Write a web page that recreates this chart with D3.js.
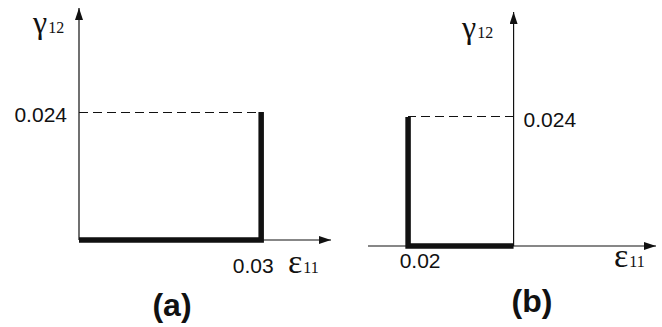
<!DOCTYPE html>
<html>
<head>
<meta charset="utf-8">
<script src="https://cdn.jsdelivr.net/npm/d3@7"></script>
<style>
  html, body { margin: 0; padding: 0; background: #fff; }
  svg { display: block; }
  .axis-line { stroke: #111; stroke-width: 1.2; fill: none; }
  .dash { stroke: #111; stroke-width: 1; stroke-dasharray: 9 5; fill: none; shape-rendering: crispEdges; }
  .path-thick { stroke: #111; stroke-width: 5.5; fill: none; stroke-linejoin: miter; }
  .num { font-family: "Liberation Sans", Arial, sans-serif; font-size: 21px; fill: #111; }
  .panel-label { font-family: "Liberation Sans", Arial, sans-serif; font-size: 32px; font-weight: bold; fill: #111; }
</style>
</head>
<body>
<div id="chart"></div>
<script>
// ---- data ----
const panelNames = ['(a)', '(b)'];

// strain path in (eps11, gamma12)
const pathAx = [0, 0.03, 0.03];
const pathAy = [0, 0, 0.024];
const pathBx = [0, -0.02, -0.02];
const pathBy = [0, 0, 0.024];

const gammaLevel = 0.024;           // dashed reference level
const tickXLabels = ['0.03', '0.02'];
const tickYLabels = ['0.024', '0.024'];

// visible axis extents (data units)
const axisXA = [0, 0.0415], axisYA = [0, 0.0435];
const axisXB = [-0.0276, 0.027], axisYB = [0, 0.0435];

const W = 662, H = 327;
const SERIF = '"Liberation Serif", "Times New Roman", serif';

const svg = d3.select('#chart').append('svg')
  .attr('width', W).attr('height', H);

// arrow head marker
svg.append('defs').append('marker')
  .attr('id', 'arrow')
  .attr('viewBox', '0 0 12 8')
  .attr('refX', 12).attr('refY', 4)
  .attr('markerWidth', 12).attr('markerHeight', 8)
  .attr('markerUnits', 'userSpaceOnUse')
  .attr('orient', 'auto')
  .append('path')
  .attr('d', 'M0,0 L12,4 L0,8 Z')
  .attr('fill', '#111');

function greekLabel(g, x, y, letter, sub, bigSize) {
  const t = g.append('text')
    .attr('x', x).attr('y', y)
    .style('font-family', SERIF)
    .style('fill', '#111');
  t.append('tspan').style('font-size', bigSize + 'px').text(letter);
  t.append('tspan').style('font-size', '16px').attr('dx', 1).text(sub);
}

function drawPanel(opt) {
  const g = svg.append('g');
  const x = d3.scaleLinear().domain(opt.xDom).range(opt.xRange);
  const y = d3.scaleLinear().domain(opt.yDom).range(opt.yRange);

  // axes with arrows
  g.append('line').attr('class', 'axis-line')
    .attr('x1', x(opt.xDom[0])).attr('x2', x(opt.xDom[1]))
    .attr('y1', y(0)).attr('y2', y(0))
    .attr('marker-end', 'url(#arrow)');
  g.append('line').attr('class', 'axis-line')
    .attr('x1', x(0)).attr('x2', x(0))
    .attr('y1', y(0)).attr('y2', y(opt.yDom[1]))
    .attr('marker-end', 'url(#arrow)');

  // dashed line from y-axis to path corner
  g.append('line').attr('class', 'dash')
    .attr('x1', x(0)).attr('x2', x(opt.px[2]))
    .attr('y1', y(gammaLevel)).attr('y2', y(gammaLevel));

  // thick strain path
  const pts = opt.px.map((v, i) => [v, opt.py[i]]);
  g.append('path').attr('class', 'path-thick')
    .attr('d', d3.line().x(d => x(d[0])).y(d => y(d[1]))(pts));

  // tick labels
  g.append('text').attr('class', 'num')
    .attr('x', x(0) + opt.yLabDx).attr('y', y(gammaLevel) + 10)
    .attr('text-anchor', opt.yLabAnchor)
    .text(opt.yLab);
  g.append('text').attr('class', 'num')
    .attr('x', x(opt.px[1]) + opt.xLabDx).attr('y', y(0) + opt.xLabDy)
    .attr('text-anchor', 'middle')
    .text(opt.xLab);

  // axis titles
  greekLabel(g, opt.gammaPos[0], opt.gammaPos[1], 'γ', '12', 32);
  greekLabel(g, opt.epsPos[0], opt.epsPos[1], 'ε', '11', 34);

  // panel label
  g.append('text').attr('class', 'panel-label')
    .attr('x', opt.namePos[0]).attr('y', opt.namePos[1])
    .attr('text-anchor', 'middle')
    .text(opt.name);
}

drawPanel({
  name: panelNames[0], namePos: [172, 316],
  xDom: axisXA, yDom: axisYA, xRange: [79, 331], yRange: [240, 8],
  px: pathAx, py: pathAy,
  yLab: tickYLabels[0], yLabAnchor: 'end', yLabDx: -12,
  xLab: tickXLabels[0], xLabDx: -8, xLabDy: 33,
  gammaPos: [33, 33], epsPos: [288, 273]
});

drawPanel({
  name: panelNames[1], namePos: [532, 312],
  xDom: axisXB, yDom: axisYB, xRange: [368, 656], yRange: [246, 12],
  px: pathBx, py: pathBy,
  yLab: tickYLabels[1], yLabAnchor: 'start', yLabDx: 10,
  xLab: tickXLabels[1], xLabDx: 12, xLabDy: 22,
  gammaPos: [462, 38], epsPos: [614, 267]
});
</script>
</body>
</html>
